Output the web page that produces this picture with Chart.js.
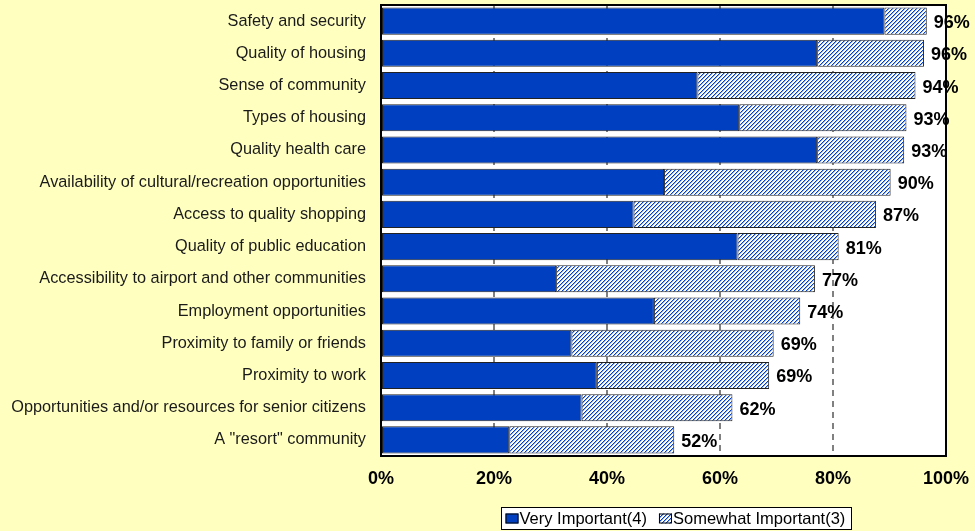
<!DOCTYPE html>
<html>
<head>
<meta charset="utf-8">
<script src="https://cdn.jsdelivr.net/npm/chart.js@4/dist/chart.umd.min.js"></script>
<style>
    html, body { margin: 0; padding: 0; background: #FFFFC0; }
    #wrap { width: 975px; height: 531px; position: relative; }
</style>
</head>
<body>
<div id="wrap"><canvas id="importanceChart"></canvas></div>
<script>
const categories = [
    'Safety and security',
    'Quality of housing',
    'Sense of community',
    'Types of housing',
    'Quality health care',
    'Availability of cultural/recreation opportunities',
    'Access to quality shopping',
    'Quality of public education',
    'Accessibility to airport and other communities',
    'Employment opportunities',
    'Proximity to family or friends',
    'Proximity to work',
    'Opportunities and/or resources for senior citizens',
    'A "resort" community'
];
const veryImportant = [89.1, 77.2, 56.0, 63.4, 77.2, 50.1, 44.7, 63.1, 31.0, 48.3, 33.7, 38.2, 35.5, 22.7];
const somewhatImportant = [7.5, 18.9, 38.6, 29.6, 15.4, 40.1, 42.9, 17.9, 45.8, 25.9, 35.8, 30.5, 26.7, 29.2];
const totalLabels = [96, 96, 94, 93, 93, 90, 87, 81, 77, 74, 69, 69, 62, 52];
const xTicks = [0, 20, 40, 60, 80, 100];
const seriesNames = ['Very Important(4)', 'Somewhat Important(3)'];

const BLUE = '#0040C0';
const FONT = "Arial, 'Liberation Sans', sans-serif";

// pixel hatch "////" for the somewhat series
function makeHatch() {
    const c = document.createElement('canvas');
    c.width = 4; c.height = 4;
    const g = c.getContext('2d');
    const img = g.createImageData(4, 4);
    for (let y = 0; y < 4; y++) {
        for (let x = 0; x < 4; x++) {
            const k = (y * 4 + x) * 4;
            const on = (x + y) % 4 === 0;
            const half = (x + y) % 4 === 1;
            img.data[k] = on ? 0 : half ? 150 : 255;
            img.data[k + 1] = on ? 64 : half ? 175 : 255;
            img.data[k + 2] = on ? 192 : half ? 235 : 255;
            img.data[k + 3] = 255;
        }
    }
    g.putImageData(img, 0, 0);
    return g.createPattern(c, 'repeat');
}
const hatch = makeHatch();

const framePlugin = {
    id: 'frame',
    beforeDraw(chart) {
        const { ctx, chartArea: a } = chart;
        ctx.save();
        ctx.fillStyle = '#FFFFC0';
        ctx.fillRect(0, 0, chart.width, chart.height);
        ctx.fillStyle = '#fff';
        ctx.fillRect(a.left, a.top, a.right - a.left, a.bottom - a.top);
        ctx.restore();
    },
    afterDatasetsDraw(chart) {
        const { ctx, chartArea: a } = chart;
        ctx.save();
        ctx.strokeStyle = '#000';
        ctx.lineWidth = 2;
        ctx.strokeRect(a.left, a.top, a.right - a.left, a.bottom - a.top);

        // total labels at bar ends
        const meta = chart.getDatasetMeta(1);
        ctx.fillStyle = '#000';
        ctx.font = 'bold 18px ' + FONT;
        ctx.textBaseline = 'middle';
        ctx.textAlign = 'left';
        meta.data.forEach((bar, i) => {
            ctx.fillText(totalLabels[i] + '%', bar.x + 7, bar.y + 2);
        });
        ctx.restore();
    },
    afterDraw(chart) {
        // boxed legend under the axis
        const { ctx } = chart;
        ctx.save();
        ctx.font = '16.5px ' + FONT;
        const sw = 13, gapSw = 1, gapItem = 12, pad = 4;
        const w0 = ctx.measureText(seriesNames[0]).width;
        const w1 = ctx.measureText(seriesNames[1]).width;
        const boxW = Math.round(pad + sw + gapSw + w0 + gapItem + sw + gapSw + w1 + pad + 2);
        const boxH = 22;
        const bx = Math.round((500 + 852) / 2 - boxW / 2) + 0.5;
        const by = 507.5;
        ctx.fillStyle = '#fff';
        ctx.fillRect(bx, by, boxW, boxH);
        ctx.strokeStyle = '#000';
        ctx.lineWidth = 1;
        ctx.strokeRect(bx, by, boxW, boxH);

        let x = bx + pad;
        const cy = by + boxH / 2;
        ctx.fillStyle = BLUE;
        ctx.fillRect(x, cy - 5, sw, 10);
        ctx.strokeStyle = '#000';
        ctx.strokeRect(x + 0.5, cy - 4.5, sw - 1, 9);
        x += sw + gapSw;
        ctx.fillStyle = '#000';
        ctx.textBaseline = 'middle';
        ctx.fillText(seriesNames[0], x, cy + 1);
        x += w0 + gapItem;
        ctx.fillStyle = hatch;
        ctx.fillRect(x, cy - 5, sw, 10);
        ctx.strokeRect(x + 0.5, cy - 4.5, sw - 1, 9);
        x += sw + gapSw;
        ctx.fillStyle = '#000';
        ctx.fillText(seriesNames[1], x, cy + 1);
        ctx.restore();
    }
};

new Chart(document.getElementById('importanceChart'), {
    type: 'bar',
    data: {
        labels: categories,
        datasets: [{
            label: seriesNames[0],
            data: veryImportant,
            backgroundColor: BLUE,
            borderColor: '#222',
            borderWidth: 1,
            borderSkipped: false,
            categoryPercentage: 1,
            barPercentage: 0.84
        }, {
            label: seriesNames[1],
            data: somewhatImportant,
            backgroundColor: hatch,
            borderColor: '#222',
            borderWidth: 1,
            borderSkipped: false,
            categoryPercentage: 1,
            barPercentage: 0.84
        }]
    },
    options: {
        indexAxis: 'y',
        responsive: true,
        maintainAspectRatio: false,
        animation: false,
        layout: { padding: { top: 5, right: 29, left: 0, bottom: 0 } },
        plugins: {
            legend: { display: false },
            tooltip: { enabled: false }
        },
        scales: {
            x: {
                stacked: true,
                min: 0,
                max: 100,
                afterBuildTicks: axis => { axis.ticks = xTicks.map(v => ({ value: v })); },
                afterFit: axis => {
                    axis.height = 75;
                    axis.paddingLeft = 0;
                    axis.paddingRight = 0;
                },
                border: { display: false, dash: [6, 5] },
                grid: {
                    color: ctx => (ctx.tick && (ctx.tick.value === 0 || ctx.tick.value === 100)) ? 'rgba(0,0,0,0)' : '#808080',
                    lineWidth: 2,
                    drawTicks: false
                },
                ticks: {
                    padding: 12,
                    color: '#000',
                    font: { family: FONT, size: 18, weight: 'bold' },
                    callback: v => v + '%'
                }
            },
            y: {
                stacked: true,
                afterFit: axis => {
                    axis.width = 381;
                    axis.paddingTop = 0;
                    axis.paddingBottom = 0;
                },
                border: { display: false },
                grid: { display: false, drawTicks: false },
                ticks: {
                    padding: 15,
                    color: '#1a1a1a',
                    font: { family: FONT, size: 16.3 }
                }
            }
        }
    },
    plugins: [framePlugin]
});
</script>
</body>
</html>
